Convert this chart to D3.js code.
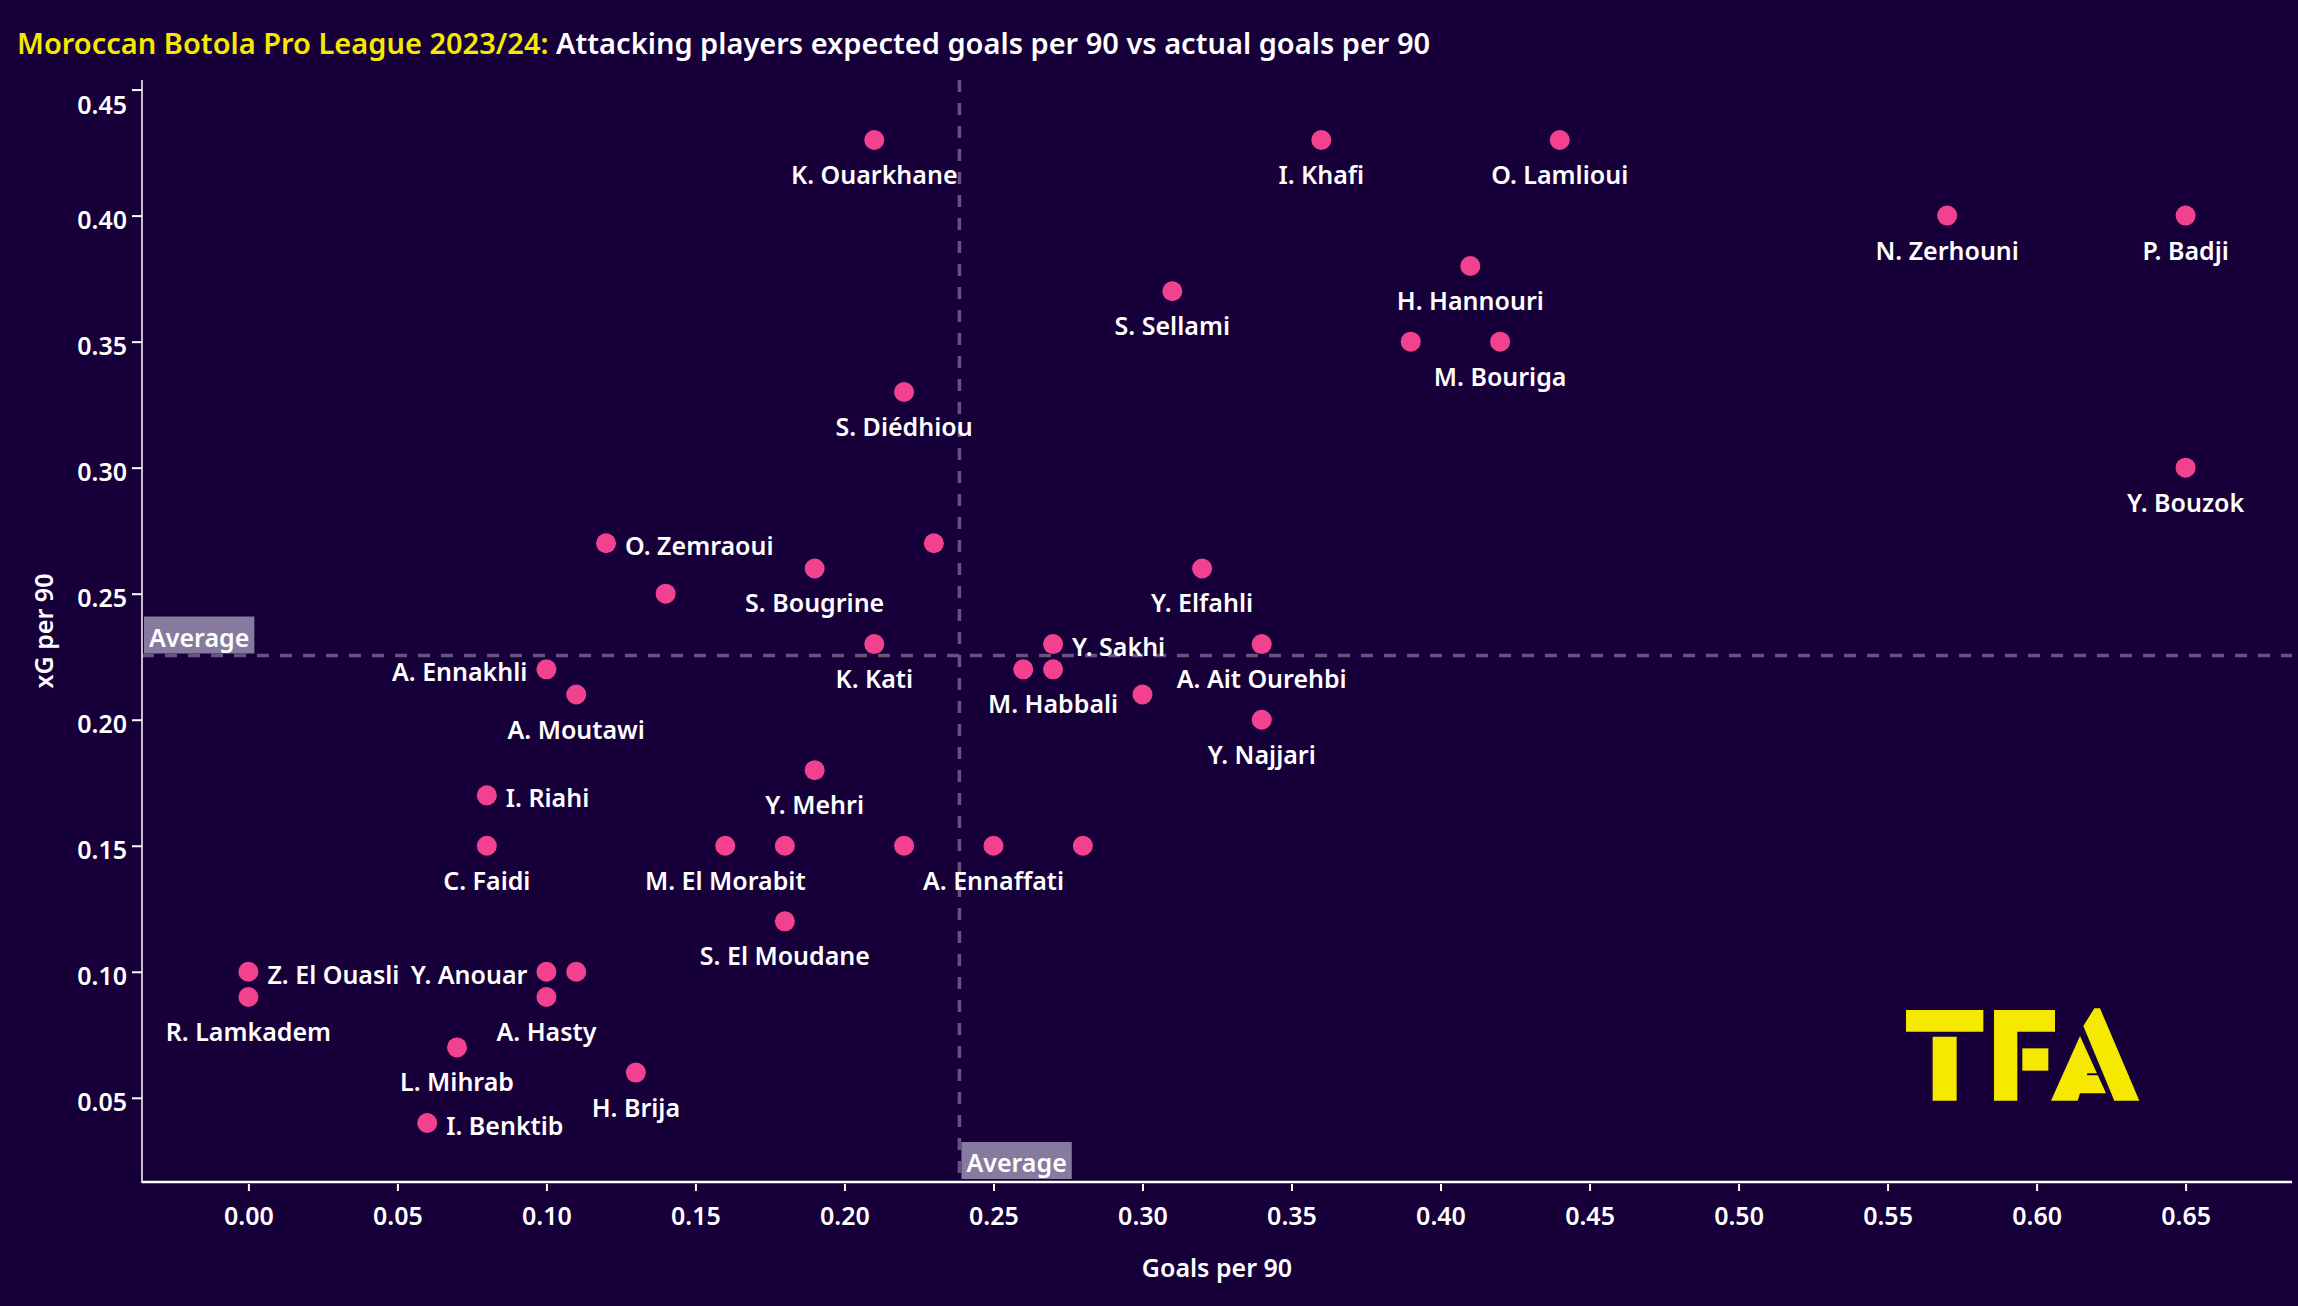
<!DOCTYPE html>
<html>
<head>
<meta charset="utf-8">
<script src="https://cdn.jsdelivr.net/npm/d3@7"></script>
<style>
  html, body { margin: 0; padding: 0; background: #17003a; }
  svg { display: block; }
  text { font-family: "Noto Sans", "Open Sans", sans-serif; font-weight: 600; }
</style>
</head>
<body>
<svg id="chart" width="2298" height="1306"></svg>
<script>
// ---------- DATA ----------
const players = ["K. Ouarkhane","I. Khafi","O. Lamlioui","N. Zerhouni","P. Badji","H. Hannouri","S. Sellami","","M. Bouriga","S. Diédhiou",
  "Y. Bouzok","O. Zemraoui","","S. Bougrine","","Y. Elfahli","K. Kati","Y. Sakhi","A. Ait Ourehbi","",
  "M. Habbali","A. Ennakhli","A. Moutawi","","Y. Najjari","Y. Mehri","I. Riahi","C. Faidi","M. El Morabit","",
  "","A. Ennaffati","","S. El Moudane","Z. El Ouasli","R. Lamkadem","Y. Anouar","","A. Hasty","L. Mihrab",
  "H. Brija","I. Benktib"];
const goalsPer90 = [0.21,0.36,0.44,0.57,0.65,0.41,0.31,0.39,0.42,0.22,
  0.65,0.12,0.23,0.19,0.14,0.32,0.21,0.27,0.34,0.26,
  0.27,0.10,0.11,0.30,0.34,0.19,0.08,0.08,0.16,0.18,
  0.22,0.25,0.28,0.18,0.00,0.00,0.10,0.11,0.10,0.07,
  0.13,0.06];
const xgPer90 = [0.43,0.43,0.43,0.40,0.40,0.38,0.37,0.35,0.35,0.33,
  0.30,0.27,0.27,0.26,0.25,0.26,0.23,0.23,0.23,0.22,
  0.22,0.22,0.21,0.21,0.20,0.18,0.17,0.15,0.15,0.15,
  0.15,0.15,0.15,0.12,0.10,0.09,0.10,0.10,0.09,0.07,
  0.06,0.04];
const labelSide = ["below","below","below","below","below","below","below","none","below","below",
  "below","right","none","below","none","below","below","right","below","none",
  "below","left","below","none","below","below","right","below","below","none",
  "none","below","none","below","right","below","left","none","below","below",
  "below","right"];
const xTicks = [0,0.05,0.10,0.15,0.20,0.25,0.30,0.35,0.40,0.45,0.50,0.55,0.60,0.65];
const yTicks = [0.05,0.10,0.15,0.20,0.25,0.30,0.35,0.40,0.45];
const titleLead = "Moroccan Botola Pro League 2023/24:";
const titleRest = " Attacking players expected goals per 90 vs actual goals per 90";
const xLabel = "Goals per 90";
const yLabel = "xG per 90";
const avgLabel = "Average";

// ---------- STYLE ----------
const BG = "#17003a", PINK = "#f2428f", YELLOW = "#f5e900", DASH = "#64557f", BOX = "#867b9e";
const plotL = 142, plotR = 2292, plotT = 80, plotB = 1182;

const data = players.map((p, i) => ({ name: p, g: goalsPer90[i], xg: xgPer90[i], side: labelSide[i] }));
const svg = d3.select("#chart");
svg.append("rect").attr("width", 2298).attr("height", 1306).attr("fill", BG);

const x = d3.scaleLinear().domain([-0.0357, 0.6857]).range([plotL, plotR]);
const y = d3.scaleLinear().domain([0.0166, 0.4538]).range([plotB, plotT]);

// Title
const title = svg.append("text").attr("x", 17).attr("y", 54).attr("font-size", 29);
title.append("tspan").attr("fill", YELLOW).text(titleLead);
title.append("tspan").attr("fill", "#ffffff").text(titleRest);

// Averages
const avgX = d3.mean(goalsPer90), avgY = d3.mean(xgPer90);
svg.append("line").attr("x1", x(avgX)).attr("x2", x(avgX)).attr("y1", plotT).attr("y2", plotB)
  .attr("stroke", DASH).attr("stroke-width", 3.5).attr("stroke-dasharray", "12,11");
svg.append("line").attr("x1", plotL).attr("x2", plotR).attr("y1", y(avgY)).attr("y2", y(avgY))
  .attr("stroke", DASH).attr("stroke-width", 3.5).attr("stroke-dasharray", "12,11");

// Axes
const yAxis = svg.append("g").attr("transform", `translate(${plotL},0)`)
  .call(d3.axisLeft(y).tickValues(yTicks).tickSize(10).tickFormat(d3.format(".2f")));
yAxis.select(".domain").remove();
yAxis.selectAll(".tick line").attr("stroke", "#ffffff").attr("stroke-width", 2);
yAxis.selectAll(".tick text").attr("fill", "#ffffff").attr("font-size", 25)
  .attr("font-family", "Noto Sans").attr("font-weight", 600)
  .attr("x", -15).attr("dy", 0).attr("y", d => d === 0.45 ? 24 : 12.5);
svg.append("line").attr("x1", plotL).attr("x2", plotL).attr("y1", plotT).attr("y2", plotB + 1)
  .attr("stroke", "#ffffff").attr("stroke-width", 1.5);

const xAxis = svg.append("g").attr("transform", `translate(0,${plotB + 2})`)
  .call(d3.axisBottom(x).tickValues(xTicks).tickSize(7).tickFormat(d3.format(".2f")));
xAxis.select(".domain").remove();
xAxis.selectAll(".tick line").attr("stroke", "#ffffff").attr("stroke-width", 2);
xAxis.selectAll(".tick text").attr("fill", "#ffffff").attr("font-size", 25)
  .attr("font-family", "Noto Sans").attr("font-weight", 600)
  .attr("y", 41).attr("dy", 0);
svg.append("line").attr("x1", plotL).attr("x2", plotR).attr("y1", plotB).attr("y2", plotB)
  .attr("stroke", "#ffffff").attr("stroke-width", 2.5);

// Axis titles
svg.append("text").attr("x", (plotL + plotR) / 2).attr("y", 1277).attr("text-anchor", "middle")
  .attr("fill", "#ffffff").attr("font-size", 25).text(xLabel);
svg.append("text").attr("transform", `translate(53,${(plotT + plotB) / 2}) rotate(-90)`)
  .attr("text-anchor", "middle").attr("fill", "#ffffff").attr("font-size", 25).text(yLabel);

// Average boxes
function avgBox(bx, by) {
  const g = svg.append("g");
  const t = g.append("text").attr("x", bx + 5).attr("y", by + 30).attr("fill", "#ffffff")
    .attr("font-size", 25).text(avgLabel);
  const w = t.node().getComputedTextLength();
  g.insert("rect", "text").attr("x", bx).attr("y", by).attr("width", w + 10).attr("height", 37).attr("fill", BOX);
}
avgBox(plotL + 2, y(avgY) - 39);
avgBox(x(avgX) + 2, plotB - 40);

// Points
svg.append("g").selectAll("circle").data(data).join("circle")
  .attr("cx", d => x(d.g)).attr("cy", d => y(d.xg)).attr("r", 10).attr("fill", PINK);

// Labels
svg.append("g").selectAll("text").data(data.filter(d => d.side !== "none")).join("text")
  .attr("fill", "#ffffff").attr("font-size", 25)
  .attr("x", d => d.side === "left" ? x(d.g) - 19 : d.side === "right" ? x(d.g) + 19 : x(d.g))
  .attr("y", d => d.side === "below" ? y(d.xg) + 44 : y(d.xg) + 12)
  .attr("text-anchor", d => d.side === "left" ? "end" : d.side === "right" ? "start" : "middle")
  .text(d => d.name);

// TFA logo
const logo = svg.append("g").attr("fill", YELLOW);
const P = (px, py) => [1850 + px / 3, 960 + py / 3];
const poly = pts => logo.append("polygon").attr("points", pts.map(p => P(p[0], p[1]).join(",")).join(" "));
poly([[168,150],[400,150],[400,215],[168,215]]);
poly([[248,230],[320,230],[320,422],[248,422]]);
poly([[432,150],[615,150],[615,215],[502,215],[502,422],[432,422]]);
poly([[517,265],[595,265],[595,332],[517,332]]);
poly([[700,198],[733,145],[750,145],[868,422],[793,422]]);
poly([[603,422],[690,228],[768,400],[690,400],[683,422]]);
logo.append("polygon").attr("fill", BG).attr("points", [[712,340],[748,340],[749,346],[711,346]].map(p => P(p[0], p[1]).join(",")).join(" "));
</script>
</body>
</html>
